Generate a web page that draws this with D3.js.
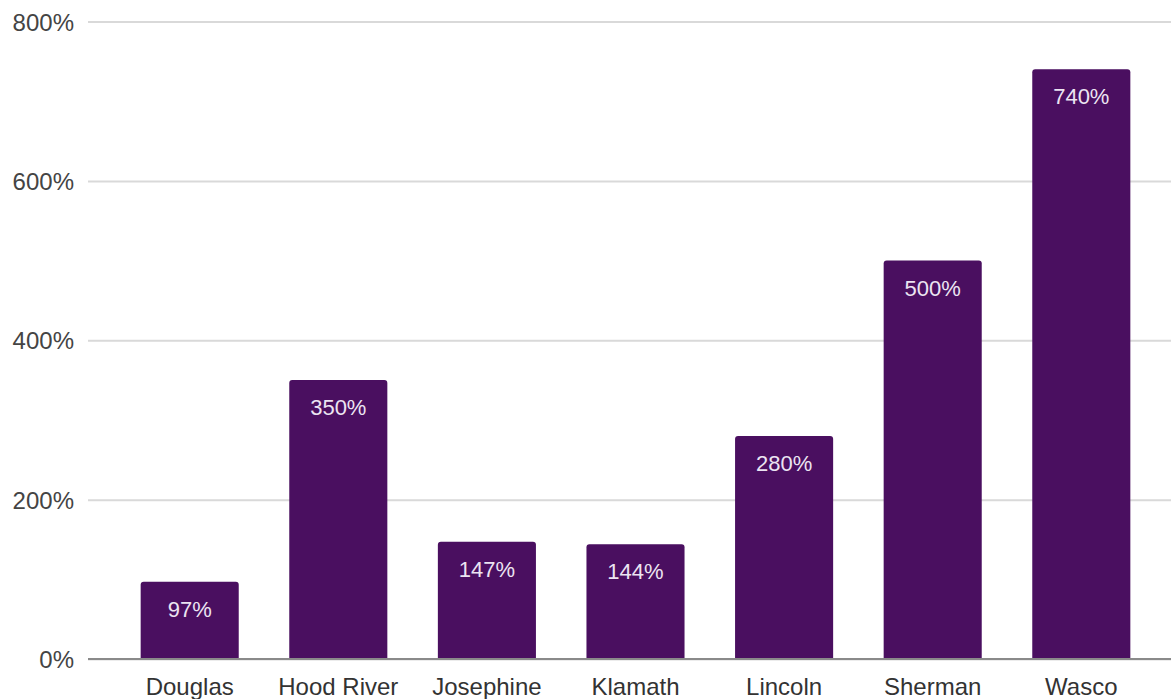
<!DOCTYPE html>
<html><head><meta charset="utf-8">
<script src="https://cdn.jsdelivr.net/npm/d3@7/dist/d3.min.js"></script>
<style>html,body{margin:0;padding:0;background:#fff;} svg{display:block;}</style>
</head><body>
<svg id="chart" width="1171" height="699"></svg>
<script>
const categories = ["Douglas","Hood River","Josephine","Klamath","Lincoln","Sherman","Wasco"];
const values = [97, 350, 147, 144, 280, 500, 740];
const yTicks = [0, 200, 400, 600, 800];

const W = 1171, H = 699;
const svg = d3.select("#chart");
const font = "'Liberation Sans', Arial, Helvetica, sans-serif";

const plotLeft = 88, plotRight = 1171;
const x = d3.scaleBand().domain(categories).range([115.4, 1155.6]).paddingInner(0.34).paddingOuter(0.17);
const y = d3.scaleLinear().domain([0, 800]).range([659, 21.5]);

// gridlines
const yAxis = d3.axisLeft(y).tickValues(yTicks).tickFormat(d => d + "%").tickSize(-(plotRight - plotLeft)).tickPadding(14);
const gy = svg.append("g").attr("transform", `translate(${plotLeft},0)`).call(yAxis);
gy.select(".domain").remove();
gy.selectAll(".tick line").attr("stroke", "#d9d9d9").attr("stroke-width", 2);
gy.selectAll(".tick text").attr("fill", "#444").attr("font-family", font).attr("font-size", 24).attr("dy", "0.36em");

// bars (top corners rounded)
const r = 3;
function barPath(d, i) {
  const x0 = x(categories[i]), x1 = x0 + x.bandwidth();
  const yt = y(d), yb = y(0);
  return `M${x0},${yb}V${yt + r}Q${x0},${yt} ${x0 + r},${yt}H${x1 - r}Q${x1},${yt} ${x1},${yt + r}V${yb}Z`;
}
svg.append("g").selectAll("path").data(values).join("path")
  .attr("d", barPath)
  .attr("fill", "#4a0f60");

// zero line
svg.append("line").attr("x1", plotLeft).attr("x2", plotRight).attr("y1", y(0)).attr("y2", y(0))
  .attr("stroke", "#8a8a8a").attr("stroke-width", 2);

// value labels
svg.append("g").selectAll("text").data(values).join("text")
  .attr("x", (d, i) => x(categories[i]) + x.bandwidth() / 2)
  .attr("y", d => y(d) + 35)
  .attr("text-anchor", "middle")
  .attr("fill", "#ece4f2")
  .attr("font-family", font).attr("font-size", 22)
  .text(d => d + "%");

// x axis labels
const xAxis = d3.axisBottom(x).tickSize(0).tickPadding(0);
const gx = svg.append("g").attr("transform", `translate(0,${y(0)})`).call(xAxis);
gx.select(".domain").remove();
gx.selectAll(".tick text").attr("fill", "#333").attr("font-family", font).attr("font-size", 24)
  .attr("dy", null).attr("y", 35.5);
</script>
</body></html>
